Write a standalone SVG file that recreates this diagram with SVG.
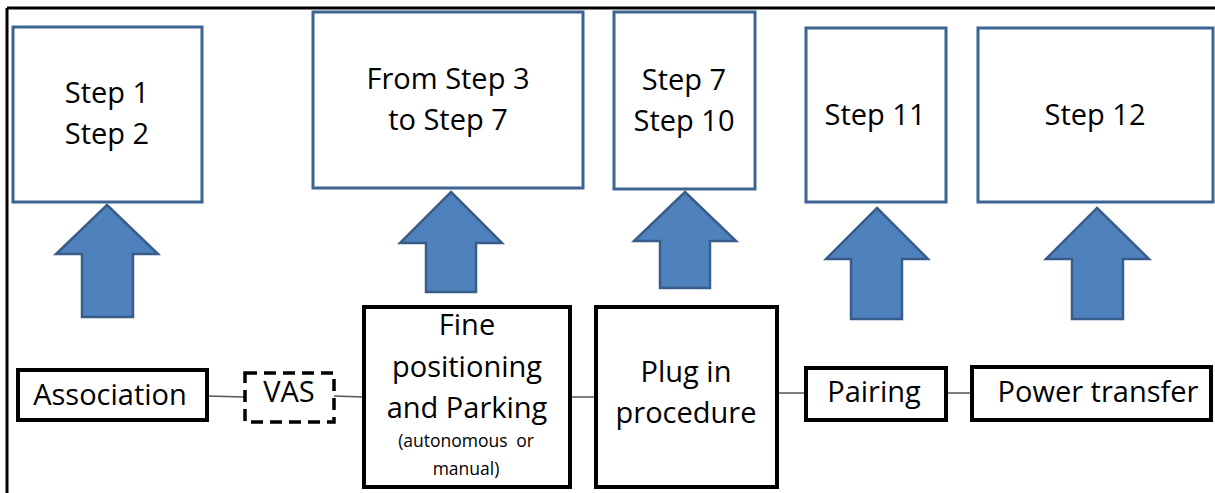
<svg xmlns="http://www.w3.org/2000/svg" width="1215" height="493" viewBox="0 0 1215 493">
  <style>
    .step { fill: #ffffff; stroke: #3d6393; stroke-width: 3; }
    .proc { fill: #ffffff; stroke: #000000; stroke-width: 4; }
    .dash { fill: #ffffff; stroke: #000000; stroke-width: 3.5; stroke-dasharray: 12 7; }
    .arrow { fill: #4f81bd; stroke: #385d8a; stroke-width: 2.5; stroke-linejoin: miter; }
    .link { stroke: #555555; stroke-width: 1.5; fill: none; }
    text { font-family: "Open Sans", "Liberation Sans", sans-serif; font-size: 29px; fill: #000000; text-anchor: middle; }
    text.small { font-size: 17.5px; }
  </style>

  <rect width="1215" height="493" fill="#ffffff"/>

  <!-- page frame -->
  <g id="frame" stroke="#000000" stroke-width="3" fill="none">
    <line x1="7" y1="8" x2="1215" y2="8"/>
    <line x1="7" y1="8" x2="7" y2="493"/>
  </g>

  <!-- step boxes -->
  <g id="step1-2">
    <rect class="step" x="13" y="27" width="189" height="175"/>
    <text x="107" y="103">Step 1</text>
    <text x="107" y="144">Step 2</text>
  </g>
  <g id="step3-7">
    <rect class="step" x="313" y="12" width="270" height="176"/>
    <text x="448" y="89">From Step 3</text>
    <text x="448" y="130">to Step 7</text>
  </g>
  <g id="step7-10">
    <rect class="step" x="614" y="12" width="141" height="177"/>
    <text x="684" y="90">Step 7</text>
    <text x="684" y="131">Step 10</text>
  </g>
  <g id="step11">
    <rect class="step" x="806" y="28" width="140" height="174"/>
    <text x="875" y="125">Step 11</text>
  </g>
  <g id="step12">
    <rect class="step" x="978" y="28" width="235" height="174"/>
    <text x="1095" y="125">Step 12</text>
  </g>

  <!-- block arrows -->
  <g id="arrows">
    <polygon class="arrow" points="107,205 158,254 133,254 133,317 82,317 82,254 56,254"/>
    <polygon class="arrow" points="451,192 502,243 476,243 476,292 426,292 426,243 400,243"/>
    <polygon class="arrow" points="685,192 736,241 710,241 710,288 660,288 660,241 634,241"/>
    <polygon class="arrow" points="877,208 928,259 902,259 902,319 851,319 851,259 826,259"/>
    <polygon class="arrow" points="1097,208 1149,259 1123,259 1123,319 1072,319 1072,259 1046,259"/>
  </g>

  <!-- connectors between process boxes -->
  <g id="connectors">
    <line class="link" x1="207" y1="396" x2="244" y2="397"/>
    <line class="link" x1="334" y1="396" x2="363" y2="397"/>
    <line class="link" x1="570" y1="397" x2="596" y2="397"/>
    <line class="link" x1="777" y1="393" x2="806" y2="393"/>
    <line class="link" x1="946" y1="393" x2="972" y2="393"/>
  </g>

  <!-- process boxes -->
  <g id="association">
    <rect class="proc" x="18" y="370" width="189" height="50" stroke-width="3.5"/>
    <text x="110" y="405">Association</text>
  </g>
  <g id="vas">
    <rect class="dash" x="245" y="373" width="89" height="49"/>
    <text x="289" y="402">VAS</text>
  </g>
  <g id="fine-positioning">
    <rect class="proc" x="364" y="307" width="206" height="180"/>
    <text x="467" y="335">Fine</text>
    <text x="467" y="377">positioning</text>
    <text x="467" y="418">and Parking</text>
    <text class="small" x="466" y="447" word-spacing="4">(autonomous or</text>
    <text class="small" x="466" y="475">manual)</text>
  </g>
  <g id="plug-in">
    <rect class="proc" x="596" y="307" width="181" height="180"/>
    <text x="686" y="382">Plug in</text>
    <text x="686" y="423">procedure</text>
  </g>
  <g id="pairing">
    <rect class="proc" x="806" y="368" width="140" height="52" stroke-width="3.5"/>
    <text x="874" y="402">Pairing</text>
  </g>
  <g id="power-transfer">
    <rect class="proc" x="972" y="367" width="239" height="53" stroke-width="3.5"/>
    <text x="1098" y="402">Power transfer</text>
  </g>
</svg>
